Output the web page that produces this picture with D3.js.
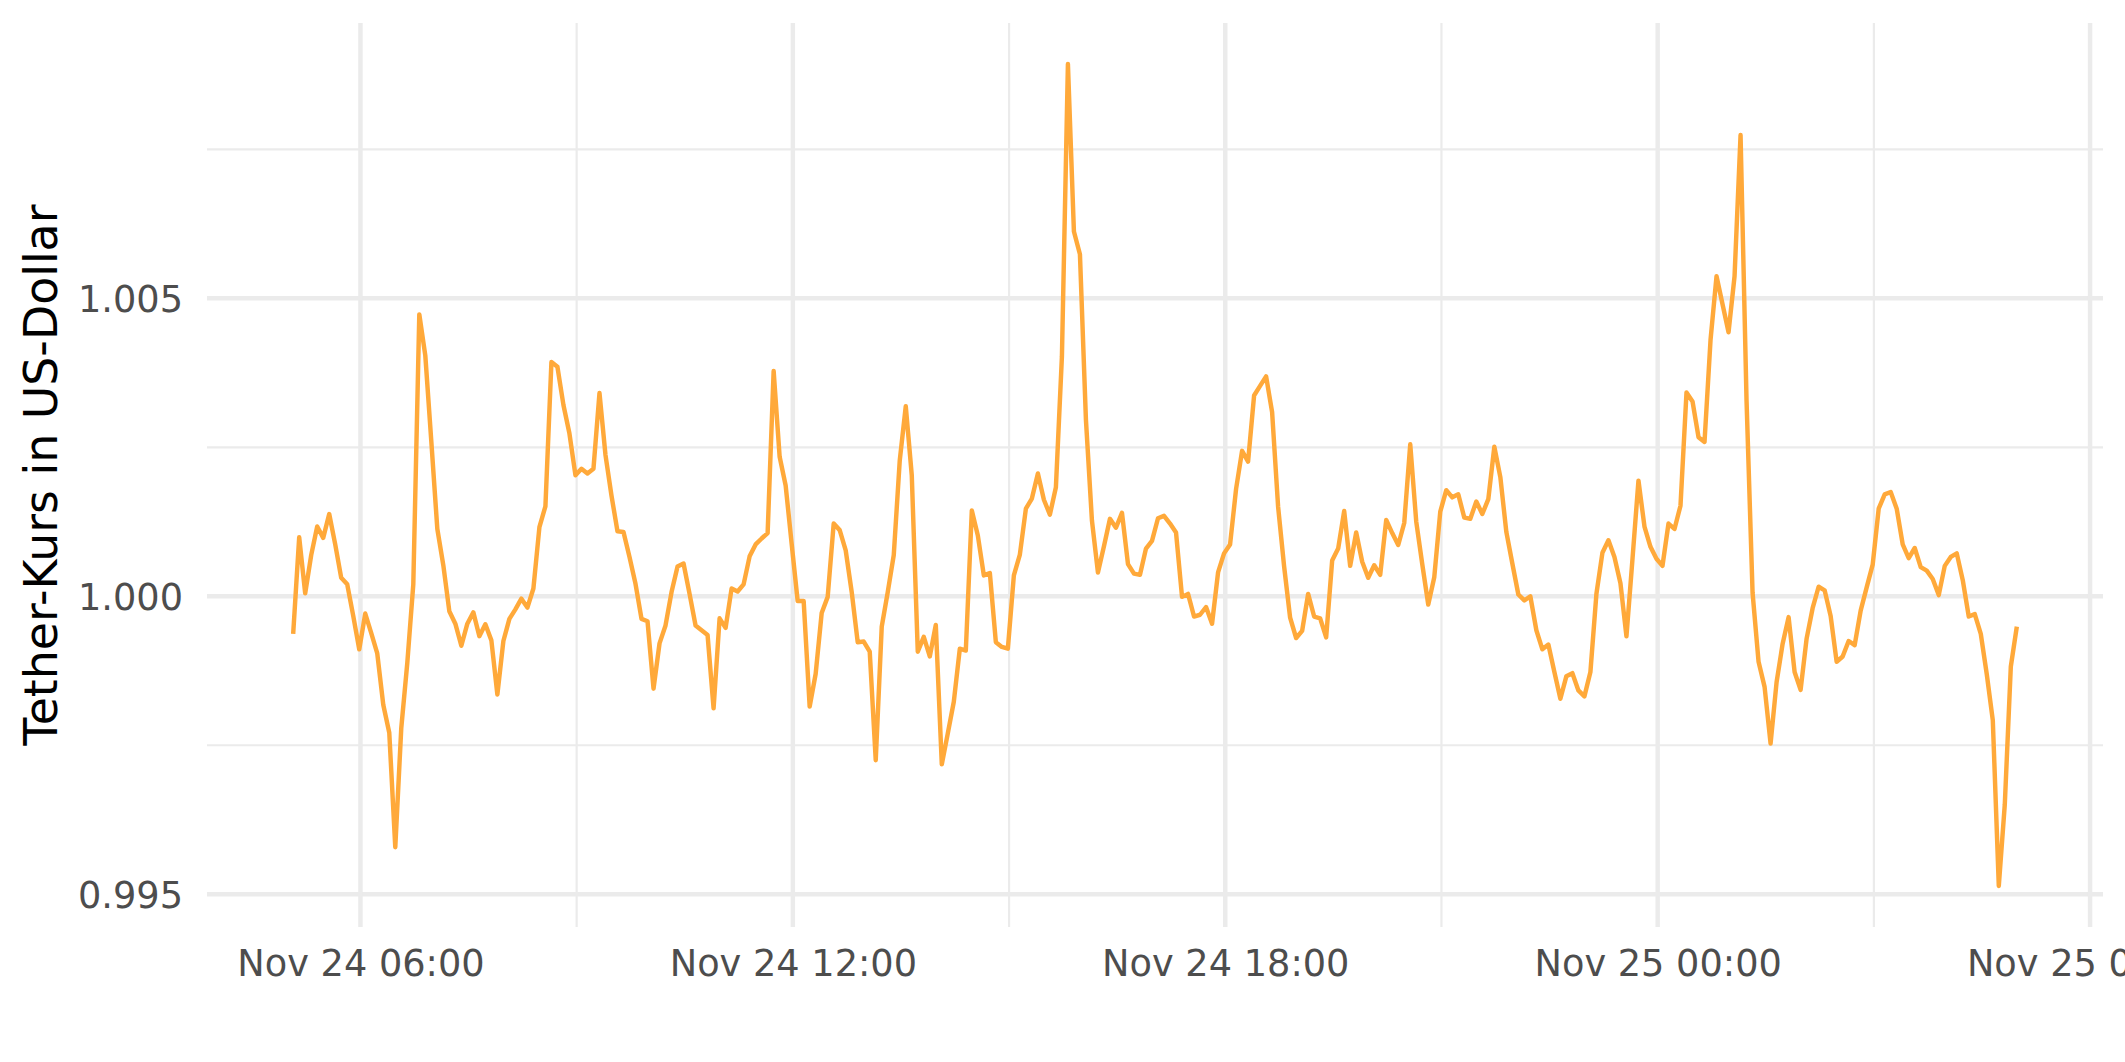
<!DOCTYPE html>
<html><head><meta charset="utf-8">
<script src="https://cdn.jsdelivr.net/npm/d3@7"></script>
<style>html,body{margin:0;padding:0;background:#fff;} svg{display:block;}</style>
</head><body><svg id="chart" width="2125" height="1062"></svg>
<script>
// ---- data ----
const startTime = "2022-11-24T05:04:00Z";
const stepMinutes = 5;
const usdtValues = [
0.99937,1.00099,1.00005,1.00069,1.00117,1.00098,1.00138,1.00087,1.00031,1.00020,
0.99967,0.99911,0.99971,0.99938,0.99904,0.99818,0.99771,0.99579,0.99779,0.99888,
1.00020,1.00473,1.00404,1.00260,1.00113,1.00052,0.99975,0.99954,0.99917,0.99954,
0.99973,0.99933,0.99953,0.99926,0.99835,0.99925,0.99962,0.99978,0.99996,0.99981,
1.00013,1.00116,1.00151,1.00393,1.00385,1.00321,1.00273,1.00203,1.00214,1.00206,
1.00214,1.00341,1.00237,1.00169,1.00109,1.00108,1.00066,1.00021,0.99962,0.99958,
0.99845,0.99921,0.99951,1.00007,1.00050,1.00055,1.00004,0.99951,0.99943,0.99935,
0.99812,0.99963,0.99947,1.00013,1.00008,1.00020,1.00067,1.00087,1.00097,1.00106,
1.00378,1.00234,1.00186,1.00088,0.99992,0.99992,0.99815,0.99870,0.99972,0.99999,
1.00122,1.00111,1.00077,1.00007,0.99923,0.99924,0.99907,0.99725,0.99949,1.00007,
1.00069,1.00228,1.00319,1.00203,0.99907,0.99932,0.99899,0.99952,0.99718,0.99770,
0.99823,0.99912,0.99909,1.00144,1.00102,1.00035,1.00039,0.99923,0.99915,0.99912,
1.00035,1.00070,1.00147,1.00164,1.00206,1.00162,1.00137,1.00183,1.00402,1.00893,
1.00612,1.00574,1.00296,1.00127,1.00040,1.00084,1.00130,1.00115,1.00140,1.00054,
1.00038,1.00036,1.00080,1.00093,1.00131,1.00135,1.00122,1.00107,0.99999,1.00004,
0.99966,0.99969,0.99982,0.99954,1.00040,1.00072,1.00087,1.00180,1.00244,1.00226,
1.00337,1.00353,1.00369,1.00309,1.00150,1.00050,0.99964,0.99930,0.99942,1.00004,
0.99966,0.99963,0.99931,1.00060,1.00080,1.00143,1.00051,1.00107,1.00058,1.00031,
1.00052,1.00036,1.00128,1.00106,1.00086,1.00123,1.00255,1.00125,1.00054,0.99986,
1.00032,1.00142,1.00178,1.00166,1.00171,1.00132,1.00130,1.00159,1.00138,1.00163,
1.00251,1.00200,1.00108,1.00055,1.00003,0.99993,1.00000,0.99943,0.99911,0.99919,
0.99873,0.99828,0.99866,0.99871,0.99842,0.99832,0.99873,1.00004,1.00073,1.00094,
1.00066,1.00022,0.99933,1.00062,1.00194,1.00117,1.00083,1.00063,1.00051,1.00122,
1.00113,1.00152,1.00342,1.00327,1.00267,1.00259,1.00430,1.00537,1.00490,1.00443,
1.00537,1.00774,1.00327,1.00006,0.99890,0.99848,0.99753,0.99856,0.99920,0.99965,
0.99873,0.99843,0.99929,0.99980,1.00016,1.00010,0.99967,0.99890,0.99899,0.99925,
0.99918,0.99976,1.00015,1.00053,1.00147,1.00171,1.00175,1.00147,1.00087,1.00064,
1.00081,1.00049,1.00043,1.00029,1.00002,1.00051,1.00066,1.00072,1.00027,0.99966,
0.99970,0.99937,0.99869,0.99792,0.99514,0.99651,0.99882,0.99949
];
const xTickTimes = ["2022-11-24T06:00:00Z","2022-11-24T12:00:00Z","2022-11-24T18:00:00Z","2022-11-25T00:00:00Z","2022-11-25T06:00:00Z"];
const xTickLabels = ["Nov 24 06:00","Nov 24 12:00","Nov 24 18:00","Nov 25 00:00","Nov 25 06:00"];
const xMinorTimes = ["2022-11-24T09:00:00Z","2022-11-24T15:00:00Z","2022-11-24T21:00:00Z","2022-11-25T03:00:00Z"];
const yTickValues = [0.995, 1.000, 1.005];
const yTickLabels = ["0.995","1.000","1.005"];
const yMinorValues = [0.9975, 1.0025, 1.0075];
const yTitle = "Tether-Kurs in US-Dollar";

// ---- build ----
const t0 = new Date(startTime).getTime();
const data = usdtValues.map((v, i) => ({ t: new Date(t0 + i * stepMinutes * 60000), v }));

const panel = { left: 207, right: 2103, top: 23, bottom: 927 };
const tExt = d3.extent(data, d => d.t.getTime());
const tPad = (tExt[1] - tExt[0]) * 0.05;
const vExt = d3.extent(data, d => d.v);
const vPad = (vExt[1] - vExt[0]) * 0.05;

const x = d3.scaleUtc().domain([new Date(tExt[0] - tPad), new Date(tExt[1] + tPad)]).range([panel.left, panel.right]);
const y = d3.scaleLinear().domain([vExt[0] - vPad, vExt[1] + vPad]).range([panel.bottom, panel.top]);

const svg = d3.select("#chart");
svg.append("rect").attr("width", 2125).attr("height", 1062).attr("fill", "#fff");

const grid = svg.append("g").attr("stroke", "#EBEBEB").attr("fill", "none");
// minor grid
grid.selectAll("line.ymin").data(yMinorValues).join("line")
  .attr("x1", panel.left).attr("x2", panel.right)
  .attr("y1", d => y(d)).attr("y2", d => y(d)).attr("stroke-width", 2.2);
grid.selectAll("line.xmin").data(xMinorTimes).join("line")
  .attr("y1", panel.top).attr("y2", panel.bottom)
  .attr("x1", d => x(new Date(d))).attr("x2", d => x(new Date(d))).attr("stroke-width", 2.2);
// major grid
grid.selectAll("line.ymaj").data(yTickValues).join("line")
  .attr("x1", panel.left).attr("x2", panel.right)
  .attr("y1", d => y(d)).attr("y2", d => y(d)).attr("stroke-width", 4.45);
grid.selectAll("line.xmaj").data(xTickTimes).join("line")
  .attr("y1", panel.top).attr("y2", panel.bottom)
  .attr("x1", d => x(new Date(d))).attr("x2", d => x(new Date(d))).attr("stroke-width", 4.45);

// line
const line = d3.line().x(d => x(d.t)).y(d => y(d.v));
svg.append("path").datum(data)
  .attr("d", line)
  .attr("fill", "none")
  .attr("stroke", "#FFA93A")
  .attr("stroke-width", 4.45)
  .attr("stroke-linejoin", "round")
  .attr("stroke-linecap", "butt");

// axes
const fontFam = "'DejaVu Sans', sans-serif";
const xAxis = d3.axisBottom(x)
  .tickValues(xTickTimes.map(d => new Date(d)))
  .tickFormat((d, i) => xTickLabels[i])
  .tickSize(0).tickPadding(23);
const gx = svg.append("g").attr("transform", `translate(0,${panel.bottom})`).call(xAxis);
gx.select(".domain").remove();
gx.selectAll("text").attr("fill", "#4D4D4D").style("font-family", fontFam).style("font-size", "36.7px");

const yAxis = d3.axisLeft(y)
  .tickValues(yTickValues)
  .tickFormat((d, i) => yTickLabels[i])
  .tickSize(0).tickPadding(24);
const gy = svg.append("g").attr("transform", `translate(${panel.left},0)`).call(yAxis);
gy.select(".domain").remove();
gy.selectAll("text").attr("fill", "#4D4D4D").attr("dy", "0.36em").style("font-family", fontFam).style("font-size", "36.7px");

svg.append("text")
  .attr("transform", `translate(56.7,${(panel.top + panel.bottom) / 2}) rotate(-90)`)
  .attr("text-anchor", "middle")
  .attr("fill", "#000")
  .style("font-family", fontFam).style("font-size", "45.8px")
  .text(yTitle);
</script></body></html>
